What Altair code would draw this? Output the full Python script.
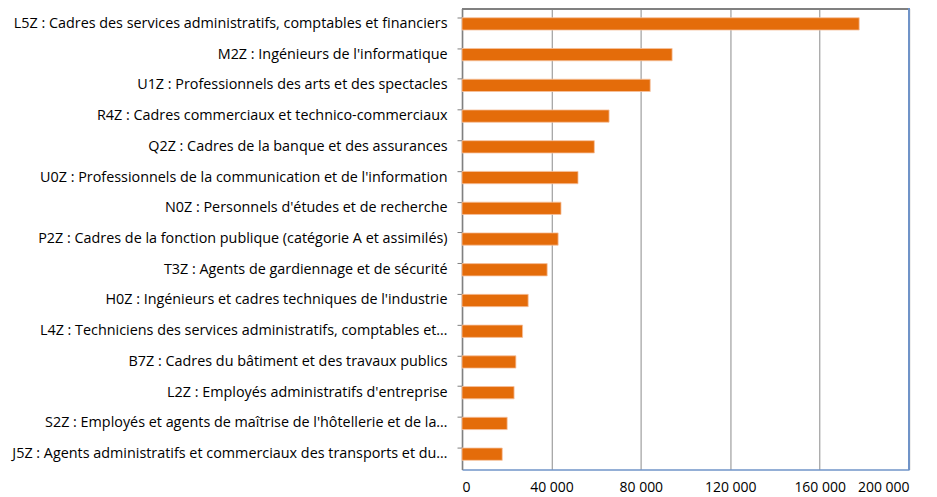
import altair as alt
import pandas as pd

categories = [
    "L5Z : Cadres des services administratifs, comptables et financiers",
    "M2Z : Ingénieurs de l'informatique",
    "U1Z : Professionnels des arts et des spectacles",
    "R4Z : Cadres commerciaux et technico-commerciaux",
    "Q2Z : Cadres de la banque et des assurances",
    "U0Z : Professionnels de la communication et de l'information",
    "N0Z : Personnels d'études et de recherche",
    "P2Z : Cadres de la fonction publique (catégorie A et assimilés)",
    "T3Z : Agents de gardiennage et de sécurité",
    "H0Z : Ingénieurs et cadres techniques de l'industrie",
    "L4Z : Techniciens des services administratifs, comptables et…",
    "B7Z : Cadres du bâtiment et des travaux publics",
    "L2Z : Employés administratifs d'entreprise",
    "S2Z : Employés et agents de maîtrise de l'hôtellerie et de la…",
    "J5Z : Agents administratifs et commerciaux des transports et du…",
]
values = [177700, 94000, 84200, 65800, 59200, 51900, 44300, 43000, 38100,
          29600, 27100, 24100, 23300, 20200, 18000]
x_ticks = [0, 40000, 80000, 120000, 160000, 200000]

df = pd.DataFrame({"cat": categories, "val": values})

W, H = 448, 462
FONT = "Open Sans"

bars = alt.Chart(df).mark_bar(
    color="#E46C0A", stroke="#F6C29E", strokeWidth=0.8
).encode(
    y=alt.Y("cat:N", sort=categories, title=None,
            scale=alt.Scale(paddingInner=0.6, paddingOuter=0.3),
            axis=alt.Axis(bandPosition=0, labelLimit=600, labelFontSize=14.4,
                          labelFont=FONT, labelColor="#000000", labelPadding=10,
                          tickSize=5, tickColor="#808080", domainColor="#808080",
                          domainWidth=1.5, grid=False)),
    x=alt.X("val:Q", title=None,
            scale=alt.Scale(domain=[0, 200000], nice=False),
            axis=alt.Axis(values=x_ticks, labelFontSize=14, labelFont=FONT,
                          labelColor="#000000", labelPadding=11, ticks=False,
                          domainColor="#7094C8", domainWidth=1.5,
                          grid=True, gridColor="#A6A6A6", gridWidth=1.3,
                          labelExpr="replace(format(datum.value, ','), regexp(',', 'g'), ' ')")),
)

top_rule = alt.Chart(df).mark_rule(color="#808080", strokeWidth=1.5).encode(
    x=alt.value(0), x2=alt.value(W), y=alt.value(0))
right_rule = alt.Chart(df).mark_rule(color="#7094C8", strokeWidth=1.5).encode(
    x=alt.value(W), y=alt.value(0), y2=alt.value(H))

chart = alt.layer(bars, top_rule, right_rule).properties(
    width=W, height=H,
    autosize=alt.AutoSizeParams(type="none"),
    padding={"left": 455, "top": 0, "right": 20, "bottom": 30},
).configure_view(stroke=None)

chart.save("out.html", embed_options={"renderer": "svg", "actions": False})
